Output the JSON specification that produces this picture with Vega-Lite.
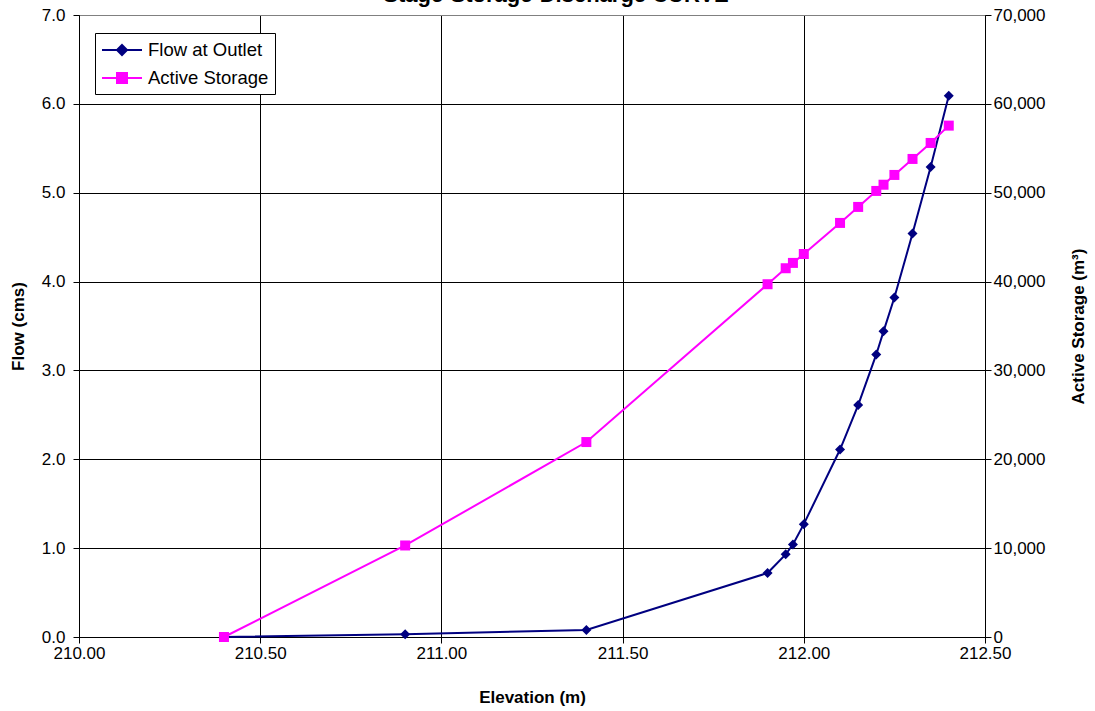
{
  "$schema": "https://vega.github.io/schema/vega-lite/v6.json",
  "width": 906,
  "height": 622,
  "autosize": {"type": "none"},
  "padding": {"left": 79, "top": 15, "right": 110, "bottom": 74},
  "background": "white",
  "config": {
    "font": "Liberation Sans",
    "view": {"stroke": "#808080", "strokeWidth": 1},
    "axis": {
      "labelFont": "Liberation Sans",
      "labelFontSize": 17,
      "labelColor": "black",
      "titleFont": "Liberation Sans",
      "titleFontSize": 17,
      "titleFontWeight": "bold",
      "titleColor": "black",
      "domainColor": "black",
      "tickColor": "black",
      "gridColor": "black",
      "gridOpacity": 1,
      "tickSize": 6,
      "labelFlush": false
    }
  },
  "title": {
    "text": "Stage-Storage-Discharge CURVE",
    "font": "Liberation Sans",
    "fontSize": 22,
    "fontWeight": "bold",
    "color": "black",
    "anchor": "middle",
    "baseline": "alphabetic",
    "offset": -18,
    "dx": 24
  },
  "datasets": {
    "main": [
      {"elev": 210.40, "flow": 0.00, "storage": 0},
      {"elev": 210.90, "flow": 0.03, "storage": 10300},
      {"elev": 211.40, "flow": 0.08, "storage": 21940},
      {"elev": 211.90, "flow": 0.72, "storage": 39700},
      {"elev": 211.95, "flow": 0.93, "storage": 41500},
      {"elev": 211.97, "flow": 1.04, "storage": 42100},
      {"elev": 212.00, "flow": 1.27, "storage": 43100},
      {"elev": 212.10, "flow": 2.11, "storage": 46600},
      {"elev": 212.15, "flow": 2.61, "storage": 48400},
      {"elev": 212.20, "flow": 3.18, "storage": 50200},
      {"elev": 212.22, "flow": 3.44, "storage": 50900},
      {"elev": 212.25, "flow": 3.82, "storage": 52000},
      {"elev": 212.30, "flow": 4.54, "storage": 53800},
      {"elev": 212.35, "flow": 5.29, "storage": 55600},
      {"elev": 212.40, "flow": 6.09, "storage": 57550}
    ],
    "legend": [
      {"series": "Flow at Outlet"},
      {"series": "Active Storage"}
    ]
  },
  "layer": [
    {
      "data": {"name": "main"},
      "mark": {
        "type": "line",
        "color": "#000080",
        "strokeWidth": 2,
        "point": {"shape": "diamond", "size": 100, "filled": true, "color": "#000080"}
      },
      "encoding": {
        "x": {
          "field": "elev",
          "type": "quantitative",
          "scale": {"domain": [210, 212.5], "nice": false, "zero": false},
          "axis": {
            "title": "Elevation (m)",
            "values": [210, 210.5, 211, 211.5, 212, 212.5],
            "format": ".2f",
            "grid": true,
            "labelPadding": 2,
            "titlePadding": 28
          }
        },
        "y": {
          "field": "flow",
          "type": "quantitative",
          "scale": {"domain": [0, 7], "nice": false, "zero": true},
          "axis": {
            "title": "Flow (cms)",
            "values": [0, 1, 2, 3, 4, 5, 6, 7],
            "format": ".1f",
            "grid": true,
            "gridColor": {"condition": {"test": "datum.value == 7", "value": "#808080"}, "value": "black"},
            "labelPadding": 8,
            "titlePadding": 14
          }
        }
      }
    },
    {
      "data": {"name": "main"},
      "mark": {
        "type": "line",
        "color": "#FF00FF",
        "strokeWidth": 2,
        "point": {"shape": "square", "size": 100, "filled": true, "color": "#FF00FF"}
      },
      "encoding": {
        "x": {
          "field": "elev",
          "type": "quantitative",
          "axis": {
            "title": "Elevation (m)",
            "values": [210, 210.5, 211, 211.5, 212, 212.5],
            "format": ".2f",
            "grid": true,
            "labelPadding": 2,
            "titlePadding": 28
          }
        },
        "y": {
          "field": "storage",
          "type": "quantitative",
          "scale": {"domain": [0, 70000], "nice": false, "zero": true},
          "axis": {
            "orient": "right",
            "title": "Active Storage (m³)",
            "titleAngle": 270,
            "values": [0, 10000, 20000, 30000, 40000, 50000, 60000, 70000],
            "format": ",.0f",
            "grid": false,
            "labelPadding": 2,
            "titlePadding": 43
          }
        }
      }
    },
    {
      "data": {"name": "legend"},
      "mark": {"type": "point", "filled": true, "opacity": 0, "size": 400, "strokeWidth": 2},
      "encoding": {
        "fill": {
          "field": "series",
          "type": "nominal",
          "scale": {"domain": ["Flow at Outlet", "Active Storage"], "range": ["#000080", "#FF00FF"]},
          "legend": {
            "title": null,
            "orient": "none",
            "legendX": 16,
            "legendY": 18,
            "strokeColor": "black",
            "fillColor": "white",
            "padding": 6,
            "labelFont": "Liberation Sans",
            "labelFontSize": 18.5,
            "labelColor": "black",
            "labelOffset": 25,
            "symbolSize": 400,
            "symbolOpacity": 1,
            "symbolStrokeWidth": 2,
            "rowPadding": 7,
            "encode": {
              "symbols": {
                "update": {
                  "fill": {"signal": "datum.value == 'Flow at Outlet' ? '#000080' : '#FF00FF'"},
                  "stroke": {"signal": "datum.value == 'Flow at Outlet' ? '#000080' : '#FF00FF'"},
                  "fillOpacity": {"value": 1},
                  "opacity": {"value": 1}
                }
              }
            }
          }
        },
        "stroke": {
          "field": "series",
          "type": "nominal",
          "scale": {"domain": ["Flow at Outlet", "Active Storage"], "range": ["#000080", "#FF00FF"]}
        },
        "shape": {
          "field": "series",
          "type": "nominal",
          "scale": {
            "domain": ["Flow at Outlet", "Active Storage"],
            "range": ["M-1,0H3M1,-0.5L1.5,0L1,0.5L0.5,0Z", "M-1,0H3M0.5,-0.5H1.5V0.5H0.5Z"]
          }
        }
      }
    }
  ],
  "resolve": {"scale": {"y": "independent"}}
}
